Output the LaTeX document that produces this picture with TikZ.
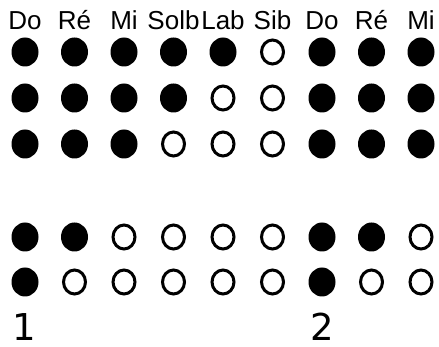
\documentclass[tikz,border=0pt]{standalone}
\usepackage{fontspec}
\setmainfont{Liberation Sans}
\newfontfamily\digitfont{DejaVu Sans}
\usetikzlibrary{shapes.geometric}

\begin{document}
\begin{tikzpicture}[x=1pt, y=-1pt,
    full/.style={ellipse, fill=black, inner sep=0pt, minimum width=27pt, minimum height=29pt},
    hole/.style={ellipse, draw=black, line width=3pt, inner sep=0pt, minimum width=22pt, minimum height=24pt},
    note/.style={anchor=base, inner sep=0pt, font=\fontsize{26}{26}\selectfont},
    num/.style={anchor=base, inner sep=0pt, font=\digitfont\fontsize{37}{37}\selectfont}]
    % ================= Parameters =================
    \def\Xo{25}        % First column
    \def\dX{49.5}      % Column spacing

    % Fixed canvas
    \path[use as bounding box] (0,0) rectangle (439,347);

    % ================= Note names =================
    \foreach \name [count=\i from 0] in {Do,Ré,Mi,Solb,Lab,Sib,Do,Ré,Mi}
        \node[note] (n\i) at ({\Xo+\i*\dX}, 30) {\name};

    % ================= Holes (1 = closed, 0 = open) =================
    \foreach \row/\y/\pat in {a/52/{1,1,1,1,1,0,1,1,1},
                              b/98/{1,1,1,1,0,0,1,1,1},
                              c/144/{1,1,1,0,0,0,1,1,1},
                              d/237/{1,1,0,0,0,0,1,1,0},
                              e/282/{1,0,0,0,0,0,1,0,0}}
        \foreach \v [count=\i from 0] in \pat {
            \ifnum\v=1
                \node[full] (\row\i) at ({\Xo+\i*\dX}, \y) {};
            \else
                \node[hole] (\row\i) at ({\Xo+\i*\dX}, \y) {};
            \fi
        };

    % ================= Numbers =================
    \node[num] (one) at (24, 341) {1};
    \node[num] (two) at ({\Xo+6*\dX}, 341) {2};

\end{tikzpicture}
\end{document}
